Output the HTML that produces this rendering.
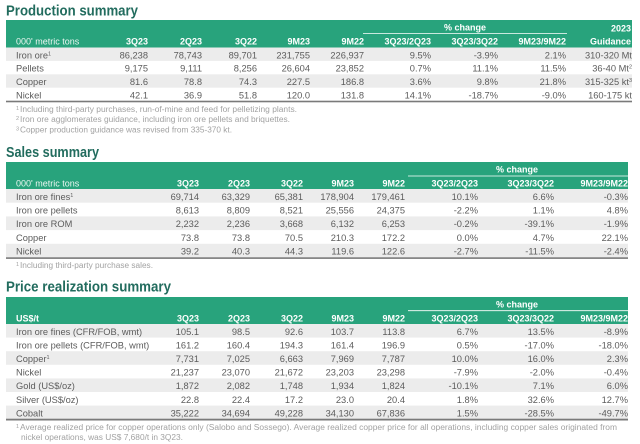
<!DOCTYPE html>
<html><head><meta charset="utf-8"><style>
html,body{margin:0;padding:0;background:#fff;}
svg{display:block;}
text{font-family:"Liberation Sans",Arial,sans-serif;}
.t{font-weight:bold;fill:#226c5e;font-size:14.5px;}
.h{fill:#fff;font-weight:bold;font-size:9px;}
.hl{fill:#eaf6f1;font-size:9px;}
.d{fill:#5c5c5c;font-size:9.3px;}
.f{fill:#a2a2a2;font-size:8px;}
.e{text-anchor:end;}
</style></head><body>
<svg width="640" height="444" viewBox="0 0 640 444" xmlns="http://www.w3.org/2000/svg">
<!-- PRODUCTION -->
<text class="t" x="6" y="15.5" textLength="132" lengthAdjust="spacingAndGlyphs">Production summary</text>
<rect x="6" y="20" width="626" height="27.5" fill="#28a37c"/>
<rect x="6" y="47.5" width="626" height="13.4" fill="#ececec"/>
<rect x="6" y="74.3" width="626" height="13.4" fill="#ececec"/>
<rect x="6" y="100.7" width="626" height="1.6" fill="#7a7a7a"/>
<line x1="363" y1="33.5" x2="567" y2="33.5" stroke="#fff" stroke-width="0.8"/>
<text class="h" x="465" y="30.5" text-anchor="middle">% change</text>
<text class="h e" x="631" y="31.5">2023</text>
<text class="hl" x="16" y="44.5">000' metric tons</text>
<g class="h" text-anchor="end">
<text x="148" y="44.5">3Q23</text><text x="202" y="44.5">2Q23</text><text x="257" y="44.5">3Q22</text><text x="310" y="44.5">9M23</text><text x="364" y="44.5">9M22</text><text x="431" y="44.5">3Q23/2Q23</text><text x="498" y="44.5">3Q23/3Q22</text><text x="566" y="44.5">9M23/9M22</text><text x="631" y="44.5">Guidance</text>
</g>
<g class="d">
<text x="16" y="58.3">Iron ore<tspan dy="-3" font-size="5.5">1</tspan></text>
<text x="16" y="71.7">Pellets</text>
<text x="16" y="85.1">Copper</text>
<text x="16" y="98.5">Nickel</text>
</g>
<g class="d" text-anchor="end">
<text x="148" y="58.3">86,238</text><text x="202" y="58.3">78,743</text><text x="257" y="58.3">89,701</text><text x="310" y="58.3">231,755</text><text x="364" y="58.3">226,937</text><text x="431" y="58.3">9.5%</text><text x="498" y="58.3">-3.9%</text><text x="566" y="58.3">2.1%</text><text x="632" y="58.3">310-320 Mt</text>
<text x="148" y="71.7">9,175</text><text x="202" y="71.7">9,111</text><text x="257" y="71.7">8,256</text><text x="310" y="71.7">26,604</text><text x="364" y="71.7">23,852</text><text x="431" y="71.7">0.7%</text><text x="498" y="71.7">11.1%</text><text x="566" y="71.7">11.5%</text><text x="632" y="71.7">36-40 Mt<tspan dy="-3" font-size="5.5">2</tspan></text>
<text x="148" y="85.1">81.6</text><text x="202" y="85.1">78.8</text><text x="257" y="85.1">74.3</text><text x="310" y="85.1">227.5</text><text x="364" y="85.1">186.8</text><text x="431" y="85.1">3.6%</text><text x="498" y="85.1">9.8%</text><text x="566" y="85.1">21.8%</text><text x="632" y="85.1">315-325 kt<tspan dy="-3" font-size="5.5">3</tspan></text>
<text x="148" y="98.5">42.1</text><text x="202" y="98.5">36.9</text><text x="257" y="98.5">51.8</text><text x="310" y="98.5">120.0</text><text x="364" y="98.5">131.8</text><text x="431" y="98.5">14.1%</text><text x="498" y="98.5">-18.7%</text><text x="566" y="98.5">-9.0%</text><text x="632" y="98.5">160-175 kt</text>
</g>
<g class="f">
<text x="16" y="110" font-size="5.5">1</text><text x="20" y="112" textLength="277" lengthAdjust="spacingAndGlyphs">Including third-party purchases, run-of-mine and feed for pelletizing plants.</text>
<text x="16" y="120" font-size="5.5">2</text><text x="20" y="122" textLength="270" lengthAdjust="spacingAndGlyphs">Iron ore agglomerates guidance, including iron ore pellets and briquettes.</text>
<text x="16" y="130.5" font-size="5.5">3</text><text x="20" y="132.5" textLength="212" lengthAdjust="spacingAndGlyphs">Copper production guidance was revised from 335-370 kt.</text>
</g>

<!-- SALES -->
<text class="t" x="6" y="157" textLength="93" lengthAdjust="spacingAndGlyphs">Sales summary</text>
<rect x="6" y="162" width="622" height="27" fill="#28a37c"/>
<rect x="6" y="189" width="622" height="13.7" fill="#ececec"/>
<rect x="6" y="216.4" width="622" height="13.7" fill="#ececec"/>
<rect x="6" y="243.8" width="622" height="13.7" fill="#ececec"/>
<rect x="6" y="257.3" width="622" height="1.6" fill="#7a7a7a"/>
<line x1="408" y1="176" x2="628" y2="176" stroke="#fff" stroke-width="0.8"/>
<text class="h" x="517" y="172.3" text-anchor="middle">% change</text>
<text class="hl" x="16" y="186.5">000' metric tons</text>
<g class="h" text-anchor="end">
<text x="199" y="186.5">3Q23</text><text x="250" y="186.5">2Q23</text><text x="303" y="186.5">3Q22</text><text x="354" y="186.5">9M23</text><text x="405" y="186.5">9M22</text><text x="478" y="186.5">3Q23/2Q23</text><text x="554" y="186.5">3Q23/3Q22</text><text x="628" y="186.5">9M23/9M22</text>
</g>
<g class="d">
<text x="16" y="199.8">Iron ore fines<tspan dy="-3" font-size="5.5">1</tspan></text>
<text x="16" y="213.5">Iron ore pellets</text>
<text x="16" y="227.2">Iron ore ROM</text>
<text x="16" y="240.9">Copper</text>
<text x="16" y="254.6">Nickel</text>
</g>
<g class="d" text-anchor="end">
<text x="199" y="199.8">69,714</text><text x="250" y="199.8">63,329</text><text x="303" y="199.8">65,381</text><text x="354" y="199.8">178,904</text><text x="405" y="199.8">179,461</text><text x="478" y="199.8">10.1%</text><text x="554" y="199.8">6.6%</text><text x="628" y="199.8">-0.3%</text>
<text x="199" y="213.5">8,613</text><text x="250" y="213.5">8,809</text><text x="303" y="213.5">8,521</text><text x="354" y="213.5">25,556</text><text x="405" y="213.5">24,375</text><text x="478" y="213.5">-2.2%</text><text x="554" y="213.5">1.1%</text><text x="628" y="213.5">4.8%</text>
<text x="199" y="227.2">2,232</text><text x="250" y="227.2">2,236</text><text x="303" y="227.2">3,668</text><text x="354" y="227.2">6,132</text><text x="405" y="227.2">6,253</text><text x="478" y="227.2">-0.2%</text><text x="554" y="227.2">-39.1%</text><text x="628" y="227.2">-1.9%</text>
<text x="199" y="240.9">73.8</text><text x="250" y="240.9">73.8</text><text x="303" y="240.9">70.5</text><text x="354" y="240.9">210.3</text><text x="405" y="240.9">172.2</text><text x="478" y="240.9">0.0%</text><text x="554" y="240.9">4.7%</text><text x="628" y="240.9">22.1%</text>
<text x="199" y="254.6">39.2</text><text x="250" y="254.6">40.3</text><text x="303" y="254.6">44.3</text><text x="354" y="254.6">119.6</text><text x="405" y="254.6">122.6</text><text x="478" y="254.6">-2.7%</text><text x="554" y="254.6">-11.5%</text><text x="628" y="254.6">-2.4%</text>
</g>
<g class="f">
<text x="16" y="266" font-size="5.5">1</text><text x="20" y="268" textLength="133" lengthAdjust="spacingAndGlyphs">Including third-party purchase sales.</text>
</g>

<!-- PRICE -->
<text class="t" x="6" y="291.5" textLength="165" lengthAdjust="spacingAndGlyphs">Price realization summary</text>
<rect x="6" y="297" width="622" height="27" fill="#28a37c"/>
<rect x="6" y="324" width="622" height="13.6" fill="#ececec"/>
<rect x="6" y="351.2" width="622" height="13.6" fill="#ececec"/>
<rect x="6" y="378.4" width="622" height="13.6" fill="#ececec"/>
<rect x="6" y="405.6" width="622" height="13.6" fill="#ececec"/>
<rect x="6" y="418.7" width="622" height="1.8" fill="#7a7a7a"/>
<line x1="408" y1="310.7" x2="628" y2="310.7" stroke="#fff" stroke-width="0.8"/>
<text class="h" x="517" y="307.3" text-anchor="middle">% change</text>
<text class="h" x="16" y="321.5">US$/t</text>
<g class="h" text-anchor="end">
<text x="199" y="321.5">3Q23</text><text x="250" y="321.5">2Q23</text><text x="303" y="321.5">3Q22</text><text x="354" y="321.5">9M23</text><text x="405" y="321.5">9M22</text><text x="478" y="321.5">3Q23/2Q23</text><text x="554" y="321.5">3Q23/3Q22</text><text x="628" y="321.5">9M23/9M22</text>
</g>
<g class="d">
<text x="16" y="334.8">Iron ore fines (CFR/FOB, wmt)</text>
<text x="16" y="348.4">Iron ore pellets (CFR/FOB, wmt)</text>
<text x="16" y="362">Copper<tspan dy="-3" font-size="5.5">1</tspan></text>
<text x="16" y="375.6">Nickel</text>
<text x="16" y="389.2">Gold (US$/oz)</text>
<text x="16" y="402.8">Silver (US$/oz)</text>
<text x="16" y="416.4">Cobalt</text>
</g>
<g class="d" text-anchor="end">
<text x="199" y="334.8">105.1</text><text x="250" y="334.8">98.5</text><text x="303" y="334.8">92.6</text><text x="354" y="334.8">103.7</text><text x="405" y="334.8">113.8</text><text x="478" y="334.8">6.7%</text><text x="554" y="334.8">13.5%</text><text x="628" y="334.8">-8.9%</text>
<text x="199" y="348.4">161.2</text><text x="250" y="348.4">160.4</text><text x="303" y="348.4">194.3</text><text x="354" y="348.4">161.4</text><text x="405" y="348.4">196.9</text><text x="478" y="348.4">0.5%</text><text x="554" y="348.4">-17.0%</text><text x="628" y="348.4">-18.0%</text>
<text x="199" y="362">7,731</text><text x="250" y="362">7,025</text><text x="303" y="362">6,663</text><text x="354" y="362">7,969</text><text x="405" y="362">7,787</text><text x="478" y="362">10.0%</text><text x="554" y="362">16.0%</text><text x="628" y="362">2.3%</text>
<text x="199" y="375.6">21,237</text><text x="250" y="375.6">23,070</text><text x="303" y="375.6">21,672</text><text x="354" y="375.6">23,203</text><text x="405" y="375.6">23,298</text><text x="478" y="375.6">-7.9%</text><text x="554" y="375.6">-2.0%</text><text x="628" y="375.6">-0.4%</text>
<text x="199" y="389.2">1,872</text><text x="250" y="389.2">2,082</text><text x="303" y="389.2">1,748</text><text x="354" y="389.2">1,934</text><text x="405" y="389.2">1,824</text><text x="478" y="389.2">-10.1%</text><text x="554" y="389.2">7.1%</text><text x="628" y="389.2">6.0%</text>
<text x="199" y="402.8">22.8</text><text x="250" y="402.8">22.4</text><text x="303" y="402.8">17.2</text><text x="354" y="402.8">23.0</text><text x="405" y="402.8">20.4</text><text x="478" y="402.8">1.8%</text><text x="554" y="402.8">32.6%</text><text x="628" y="402.8">12.7%</text>
<text x="199" y="416.4">35,222</text><text x="250" y="416.4">34,694</text><text x="303" y="416.4">49,228</text><text x="354" y="416.4">34,130</text><text x="405" y="416.4">67,836</text><text x="478" y="416.4">1.5%</text><text x="554" y="416.4">-28.5%</text><text x="628" y="416.4">-49.7%</text>
</g>
<g class="f">
<text x="16" y="428" font-size="5.5">1</text><text x="20" y="430" textLength="597" lengthAdjust="spacingAndGlyphs">Average realized price for copper operations only (Salobo and Sossego). Average realized copper price for all operations, including copper sales originated from</text>
<text x="21" y="440" textLength="162" lengthAdjust="spacingAndGlyphs">nickel operations, was US$ 7,680/t in 3Q23.</text>
</g>
</svg>
</body></html>
